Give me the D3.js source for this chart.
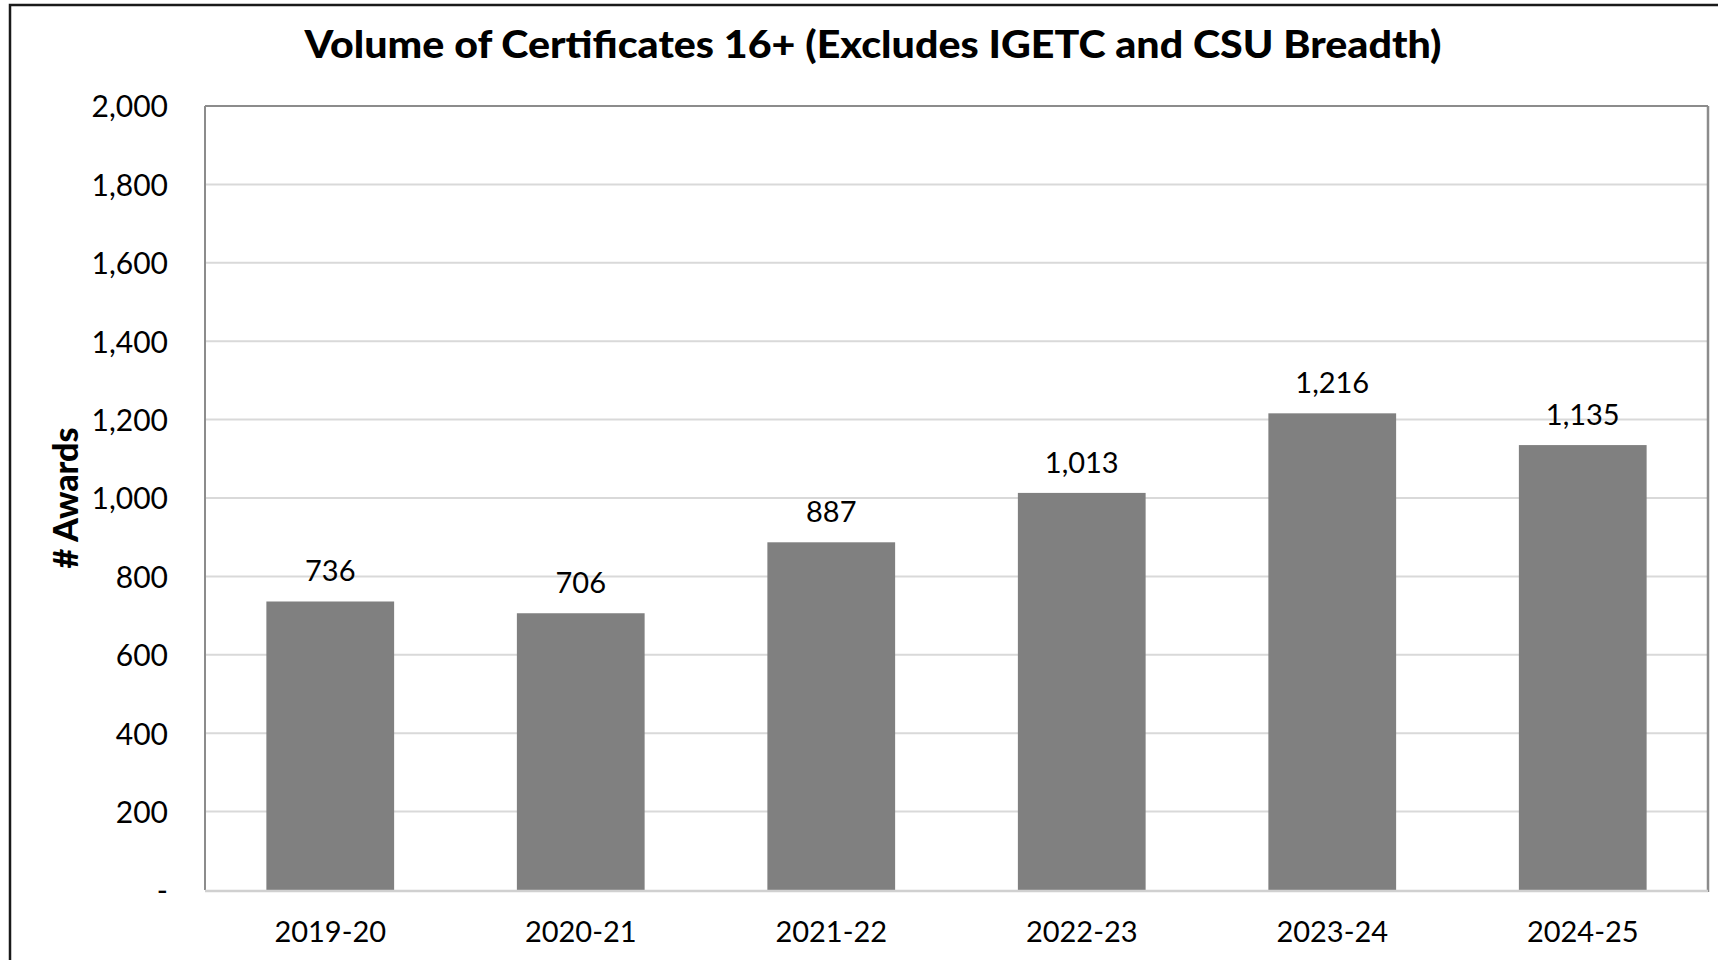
<!DOCTYPE html>
<html>
<head>
<meta charset="utf-8">
<script src="https://cdn.jsdelivr.net/npm/d3@7"></script>
<style>
  body { margin: 0; background: #fff; }
  text { font-family: Lato, "Open Sans", sans-serif; fill: #000; }
</style>
</head>
<body>
<div id="chart"></div>
<script>
let years = ['2019-20', '2020-21', '2021-22', '2022-23', '2023-24', '2024-25']
let awards = [736, 706, 887, 1013, 1216, 1135]
let yTicks = [0, 200, 400, 600, 800, 1000, 1200, 1400, 1600, 1800, 2000]

let width = 1718
let height = 960
let margin = { top: 106, left: 205, right: 10, bottom: 70 }

let svg = d3
  .select('#chart')
  .append('svg')
  .attr('width', width)
  .attr('height', height)

// outer frame of the chart object
svg
  .append('rect')
  .attr('x', 10)
  .attr('y', 5)
  .attr('width', width + 20)
  .attr('height', height + 20)
  .attr('fill', 'none')
  .attr('stroke', '#1a1a1a')
  .attr('stroke-width', 2.5)

let x = d3
  .scaleBand()
  .domain(years)
  .range([margin.left, width - margin.right])
  .paddingInner(0.49)
  .paddingOuter(0.245)

let y = d3
  .scaleLinear()
  .domain([0, 2000])
  .range([height - margin.bottom, margin.top])

let fmt = d => (d === 0 ? '-' : d3.format(',')(d))

// gridlines
svg
  .selectAll('.grid')
  .data(yTicks.filter(d => d > 0 && d < 2000))
  .enter()
  .append('line')
  .attr('class', 'grid')
  .attr('x1', margin.left)
  .attr('x2', width - margin.right)
  .attr('y1', d => y(d))
  .attr('y2', d => y(d))
  .attr('stroke', '#d9d9d9')
  .attr('stroke-width', 2)

// bars
svg
  .selectAll('.bar')
  .data(awards)
  .enter()
  .append('rect')
  .attr('class', 'bar')
  .attr('x', (d, i) => x(years[i]))
  .attr('y', d => y(d))
  .attr('width', x.bandwidth())
  .attr('height', d => y(0) - y(d))
  .attr('fill', '#808080')

// value labels
svg
  .selectAll('.value')
  .data(awards)
  .enter()
  .append('text')
  .attr('class', 'value')
  .attr('x', (d, i) => x(years[i]) + x.bandwidth() / 2)
  .attr('y', d => y(d) - 20)
  .attr('text-anchor', 'middle')
  .attr('font-size', 29)
  .text(d => d3.format(',')(d))

// plot area border
svg
  .append('line')
  .attr('x1', margin.left)
  .attr('x2', margin.left)
  .attr('y1', y(2000))
  .attr('y2', y(0))
  .attr('stroke', '#8c8c8c')
  .attr('stroke-width', 2)
svg
  .append('line')
  .attr('x1', margin.left)
  .attr('x2', width - margin.right)
  .attr('y1', y(2000))
  .attr('y2', y(2000))
  .attr('stroke', '#8c8c8c')
  .attr('stroke-width', 2)
svg
  .append('line')
  .attr('x1', width - margin.right)
  .attr('x2', width - margin.right)
  .attr('y1', y(2000))
  .attr('y2', y(0) + 2)
  .attr('stroke', '#8c8c8c')
  .attr('stroke-width', 2.5)
svg
  .append('line')
  .attr('x1', margin.left)
  .attr('x2', width - margin.right)
  .attr('y1', y(0) + 1)
  .attr('y2', y(0) + 1)
  .attr('stroke', '#d0d0d0')
  .attr('stroke-width', 2.5)

// y axis
let yAxis = svg
  .append('g')
  .attr('transform', 'translate(' + (margin.left - 37) + ',0)')
  .call(d3.axisLeft(y).tickValues(yTicks).tickFormat(fmt).tickSize(0).tickPadding(0))
yAxis.select('.domain').remove()
yAxis
  .selectAll('text')
  .attr('font-size', 30)
  .attr('font-family', 'Lato, sans-serif')
  .attr('fill', '#000')
  .attr('dy', '0.36em')

// x axis
let xAxis = svg
  .append('g')
  .attr('transform', 'translate(0,' + (height - margin.bottom) + ')')
  .call(d3.axisBottom(x).tickSize(0).tickPadding(0))
xAxis.select('.domain').remove()
xAxis
  .selectAll('text')
  .attr('font-size', 29)
  .attr('font-family', 'Lato, sans-serif')
  .attr('fill', '#000')
  .attr('dy', null)
  .attr('y', 52)

// title
svg
  .append('text')
  .attr('x', 873)
  .attr('y', 58)
  .attr('text-anchor', 'middle')
  .attr('font-size', 37)
  .attr('font-weight', 900)
  .attr('textLength', 1137)
  .attr('lengthAdjust', 'spacingAndGlyphs')
  .text('Volume of Certificates 16+ (Excludes IGETC and CSU Breadth)')

// y axis title
svg
  .append('text')
  .attr('transform', 'translate(78,' + (y(1000)) + ') rotate(-90)')
  .attr('text-anchor', 'middle')
  .attr('font-size', 34)
  .attr('font-weight', 900)
  .text('# Awards')
</script>
</body>
</html>
